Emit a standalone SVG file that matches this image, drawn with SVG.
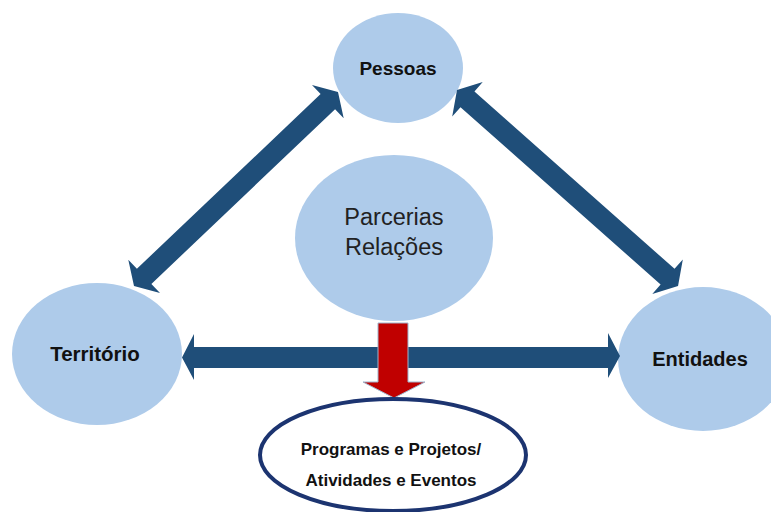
<svg xmlns="http://www.w3.org/2000/svg" width="771" height="512" viewBox="0 0 771 512">
<style>
.node{fill:#AECBEA;}
.lbl{font-family:"Liberation Sans",Arial,sans-serif;font-weight:bold;fill:#111;text-anchor:middle;}
.lbl2{font-family:"Liberation Sans",Arial,sans-serif;fill:#222;text-anchor:middle;font-size:23.5px;}
.arr{fill:#1F4E79;}
</style>
<rect width="771" height="512" fill="#fff"/>
<g id="pessoas"><ellipse class="node" cx="398" cy="68" rx="65" ry="55"/><text class="lbl" x="398" y="75" font-size="19">Pessoas</text></g>
<g id="parcerias"><ellipse class="node" cx="394" cy="238" rx="99" ry="83"/><text class="lbl2" x="394" y="225">Parcerias</text><text class="lbl2" x="394" y="255">Relações</text></g>
<g id="territorio"><ellipse class="node" cx="97" cy="354" rx="85" ry="71"/><text class="lbl" x="95" y="361" font-size="20.5">Território</text></g>
<g id="entidades"><ellipse class="node" cx="703" cy="359" rx="85" ry="72"/><text class="lbl" x="700" y="366" font-size="20">Entidades</text></g>
<g id="connectors">
<path class="arr" transform="translate(134,286) rotate(-43.56)" d="M0,0 L14,-23 L14,-10.5 L267.5,-10.5 L267.5,-23 L281.5,0 L267.5,23 L267.5,10.5 L14,10.5 L14,23 Z"/>
<path class="arr" transform="translate(457,90) rotate(41.56)" d="M0,0 L14,-23 L14,-10.5 L281.4,-10.5 L281.4,-23 L295.4,0 L281.4,23 L281.4,10.5 L14,10.5 L14,23 Z"/>
<path class="arr" d="M182,357.5 L194,334 L194,347 L608,347 L608,333 L620,356 L608,378 L608,368 L194,368 L194,380 Z"/>
<path fill="#C00000" stroke="#9FB4CC" stroke-width="1" d="M378,323 L408,323 L408,382 L425,382 L394,398 L363,382 L378,382 Z"/>
</g>
<g id="programas"><ellipse cx="393" cy="455" rx="133" ry="56" fill="#fff" stroke="#1C3470" stroke-width="4"/><text class="lbl" x="391" y="455" font-size="17">Programas e Projetos/</text><text class="lbl" x="391" y="486" font-size="17">Atividades e Eventos</text></g>
</svg>
